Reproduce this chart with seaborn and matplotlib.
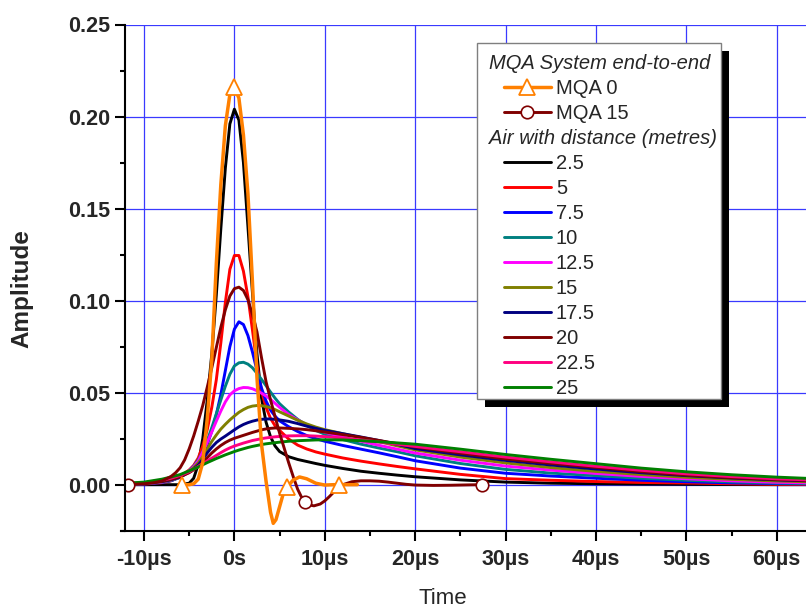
import matplotlib
matplotlib.use("Agg")
import matplotlib.pyplot as plt
import numpy as np
import pandas as pd
import seaborn as sns
from matplotlib.lines import Line2D
from matplotlib.patches import Rectangle

# ---------------- data ----------------
t_air = [-12, -10, -8, -7, -6, -5, -4.5, -4, -3.5, -3, -2.5, -2, -1.5, -1, -0.5,
         0, 0.5, 1, 1.5, 2, 2.5, 3, 3.5, 4, 4.5, 5, 6, 7, 8, 9, 10,
         12, 14, 16, 18, 20, 25, 30, 35, 40, 45, 50, 55, 60, 63.5]

air_2_5 = [0, 0, 0, 0, 0, 0.0008, 0.0035, 0.011, 0.025, 0.046, 0.071, 0.103, 0.139, 0.172, 0.196,
           0.204, 0.198, 0.175, 0.140, 0.104, 0.071, 0.047, 0.034, 0.026, 0.021, 0.018,
           0.0152, 0.0137, 0.0126, 0.0115, 0.0105,
           0.0088, 0.0073, 0.0062, 0.0052, 0.0043, 0.0026, 0.0014, 0.0008, 0.0005, 0.0003, 0.0002, 0.0001, 0.0, 0.0]
air_5 = [0.0001, 0.0003, 0.0011, 0.0021, 0.0045, 0.0080, 0.0105, 0.0145, 0.0210, 0.0300, 0.0420, 0.0570, 0.0770, 0.0990, 0.1170,
         0.1245, 0.1245, 0.1160, 0.1020, 0.0840, 0.0650, 0.0510, 0.0420, 0.0360, 0.0320, 0.0295,
         0.0248, 0.0215, 0.0194, 0.0178, 0.0166,
         0.0145, 0.0128, 0.0113, 0.0099, 0.0086, 0.0056, 0.0033, 0.0024, 0.0017, 0.0012, 0.0009, 0.0005, 0.0002, 0.0001]
air_7_5 = [0.0001, 0.0004, 0.0012, 0.0022, 0.0040, 0.0075, 0.0100, 0.0130, 0.0170, 0.0220, 0.0290, 0.0380, 0.0490, 0.0620, 0.0750,
           0.0845, 0.0885, 0.0870, 0.0810, 0.0720, 0.0620, 0.0525, 0.0455, 0.0405, 0.0372, 0.0347,
           0.0315, 0.0289, 0.0267, 0.0250, 0.0236,
           0.0213, 0.0193, 0.0173, 0.0152, 0.0130, 0.0090, 0.0062, 0.0047, 0.0035, 0.0024, 0.0016, 0.0010, 0.0006, 0.0004]
air_10 = [0.0002, 0.0005, 0.0013, 0.0023, 0.0040, 0.0075, 0.0100, 0.0135, 0.0180, 0.0240, 0.0310, 0.0385, 0.0460, 0.0535, 0.0600,
          0.0645, 0.0662, 0.0665, 0.0655, 0.0635, 0.0605, 0.0572, 0.0538, 0.0503, 0.0470, 0.0440,
          0.0395, 0.0355, 0.0322, 0.0295, 0.0274,
          0.0245, 0.0220, 0.0199, 0.0179, 0.0157, 0.0115, 0.0083, 0.0063, 0.0049, 0.0035, 0.0024, 0.0015, 0.0009, 0.0006]
air_12_5 = [0.0003, 0.0006, 0.0014, 0.0025, 0.0042, 0.0075, 0.0098, 0.0128, 0.0178, 0.0230, 0.0287, 0.0345, 0.0400, 0.0450, 0.0488,
            0.0510, 0.0522, 0.0528, 0.0527, 0.0521, 0.0510, 0.0497, 0.0482, 0.0463, 0.0442, 0.0420,
            0.0382, 0.0352, 0.0326, 0.0304, 0.0285,
            0.0259, 0.0236, 0.0214, 0.0193, 0.0172, 0.0133, 0.0101, 0.0079, 0.0061, 0.0045, 0.0032, 0.0021, 0.0013, 0.0010]
air_15 = [0.0003, 0.0007, 0.0016, 0.0026, 0.0042, 0.0072, 0.0093, 0.0118, 0.0152, 0.0195, 0.0235, 0.0270, 0.0302, 0.0328, 0.0352,
          0.0373, 0.0393, 0.0408, 0.0420, 0.0427, 0.0430, 0.0429, 0.0425, 0.0418, 0.0408, 0.0396,
          0.0373, 0.0350, 0.0330, 0.0313, 0.0299,
          0.0277, 0.0256, 0.0234, 0.0211, 0.0189, 0.0150, 0.0118, 0.0093, 0.0072, 0.0055, 0.0040, 0.0029, 0.0020, 0.0016]
air_17_5 = [0.0004, 0.0008, 0.0017, 0.0027, 0.0042, 0.0068, 0.0086, 0.0107, 0.0138, 0.0173, 0.0203, 0.0229, 0.0248, 0.0264, 0.0281,
            0.0298, 0.0314, 0.0327, 0.0337, 0.0345, 0.0351, 0.0355, 0.0357, 0.0357, 0.0355, 0.0352,
            0.0344, 0.0332, 0.0318, 0.0306, 0.0295,
            0.0277, 0.0259, 0.0240, 0.0219, 0.0196, 0.0162, 0.0132, 0.0107, 0.0085, 0.0065, 0.0049, 0.0036, 0.0026, 0.0021]
air_20 = [0.0005, 0.0009, 0.0019, 0.0029, 0.0043, 0.0065, 0.0081, 0.0099, 0.0121, 0.0147, 0.0172, 0.0194, 0.0213, 0.0229, 0.0242,
          0.0252, 0.0260, 0.0268, 0.0276, 0.0284, 0.0291, 0.0298, 0.0303, 0.0306, 0.0308, 0.0308,
          0.0306, 0.0303, 0.0299, 0.0293, 0.0286,
          0.0272, 0.0257, 0.0240, 0.0223, 0.0205, 0.0171, 0.0140, 0.0116, 0.0094, 0.0071, 0.0052, 0.0038, 0.0028, 0.0023]
air_22_5 = [0.0006, 0.0011, 0.0024, 0.0035, 0.0050, 0.0070, 0.0084, 0.0099, 0.0114, 0.0129, 0.0144, 0.0159, 0.0174, 0.0188, 0.0200,
            0.0210, 0.0218, 0.0226, 0.0233, 0.0240, 0.0245, 0.0250, 0.0254, 0.0257, 0.0260, 0.0262,
            0.0265, 0.0266, 0.0266, 0.0264, 0.0261,
            0.0253, 0.0243, 0.0232, 0.0220, 0.0208, 0.0179, 0.0150, 0.0124, 0.0100, 0.0078, 0.0059, 0.0044, 0.0032, 0.0026]
air_25 = [0.0008, 0.0014, 0.0030, 0.0042, 0.0055, 0.0075, 0.0085, 0.0096, 0.0108, 0.0120, 0.0131, 0.0142, 0.0152, 0.0162, 0.0171,
          0.0180, 0.0188, 0.0195, 0.0202, 0.0208, 0.0213, 0.0218, 0.0222, 0.0225, 0.0228, 0.0231,
          0.0236, 0.0239, 0.0241, 0.0243, 0.0244,
          0.0243, 0.0239, 0.0233, 0.0227, 0.0220, 0.0193, 0.0164, 0.0138, 0.0114, 0.0090, 0.0070, 0.0054, 0.0041, 0.0034]

distances = ["2.5", "5", "7.5", "10", "12.5", "15", "17.5", "20", "22.5", "25"]
air_series = [air_2_5, air_5, air_7_5, air_10, air_12_5, air_15, air_17_5, air_20, air_22_5, air_25]
air_colors = ["#000000", "#FF0000", "#0000FF", "#008080", "#FF00FF",
              "#808000", "#000080", "#800000", "#FF0080", "#008000"]

t_mqa0 = [-5.8, -5, -4.5, -4, -3.5, -3, -2.5, -2, -1.5, -1, -0.5,
          0, 0.5, 1, 1.5, 2, 2.5, 3, 3.5, 4,
          4.3, 4.6, 5, 5.4, 5.8, 6.5, 7.2, 8, 9, 10, 11, 11.6, 12.5, 13.6]
a_mqa0 = [0, 0, 0.0005, 0.003, 0.012, 0.036, 0.068, 0.120, 0.163, 0.195, 0.212,
          0.216, 0.210, 0.190, 0.158, 0.110, 0.058, 0.022, 0.002, -0.015,
          -0.021, -0.019, -0.012, -0.005, -0.0015, 0.0025, 0.0042, 0.0032, 0.0008, -0.0002, 0, 0, 0, 0]
mqa0_marker_t = [-5.8, 0, 5.8, 11.6]

t_mqa15 = [-11.8, -10, -9, -8, -7, -6.5, -6, -5.5, -5, -4.5,
           -4, -3.5, -3, -2.5, -2, -1.5, -1, -0.5, 0, 0.5,
           1, 1.5, 2, 2.5, 3, 3.5, 4, 4.5, 5, 5.5,
           6, 6.5, 7, 7.4, 7.8, 8.3, 8.8, 9.5, 10, 10.5,
           11, 11.5, 12, 13, 14, 15, 16, 17, 18, 19,
           20, 22, 24, 26, 27.4]
a_mqa15 = [0, 0.0005, 0.001, 0.002, 0.0045, 0.0065, 0.0092, 0.0135, 0.0195, 0.0265,
           0.0345, 0.043, 0.053, 0.0635, 0.0745, 0.0855, 0.0950, 0.1025, 0.1065, 0.1073,
           0.1055, 0.1005, 0.0925, 0.083, 0.069, 0.056, 0.046, 0.037, 0.028, 0.020,
           0.012, 0.0045, -0.0025, -0.0065, -0.0093, -0.011, -0.0115, -0.0105, -0.0088, -0.0065,
           -0.004, -0.0018, 0.0, 0.0016, 0.0021, 0.0021, 0.0019, 0.0014, 0.0008, 0.0002,
           -0.0002, -0.0004, -0.0003, -0.0001, 0]
mqa15_marker_t = [-11.8, 7.8, 27.4]

x_ticks = [-10, 0, 10, 20, 30, 40, 50, 60]
x_tick_labels = ["-10µs", "0s", "10µs", "20µs", "30µs", "40µs", "50µs", "60µs"]
y_ticks = [0.00, 0.05, 0.10, 0.15, 0.20, 0.25]
y_tick_labels = ["0.00", "0.05", "0.10", "0.15", "0.20", "0.25"]

legend_title_1 = "MQA System end-to-end"
legend_title_2 = "Air with distance (metres)"
mqa_labels = ["MQA 0", "MQA 15"]
orange = "#FF8000"
wine = "#800000"

# ---------------- style ----------------
sns.set_theme(style="white")
plt.rcParams["font.family"] = ["Liberation Sans", "DejaVu Sans"]

W, H = 806, 609
fig = plt.figure(figsize=(W / 100, H / 100), dpi=100)
ax_l, ax_r, ax_t, ax_b = 125, 806, 24.5, 530.7
ax = fig.add_axes([ax_l / W, 1 - ax_b / H, (ax_r - ax_l) / W, (ax_b - ax_t) / H])

rows = []
for d, s in zip(distances, air_series):
    for t, a in zip(t_air, s):
        rows.append((t, a, d))
df = pd.DataFrame(rows, columns=["time", "amp", "dist"])

sns.lineplot(data=df, x="time", y="amp", hue="dist", hue_order=distances,
             palette=dict(zip(distances, air_colors)), estimator=None, sort=False,
             lw=2.1, legend=False, ax=ax)

idx15 = [int(np.argmin(np.abs(np.array(t_mqa15) - m))) for m in mqa15_marker_t]
sns.lineplot(x=t_mqa15, y=a_mqa15, color=wine, lw=2.1, sort=False, estimator=None,
             marker="o", markevery=idx15, markersize=9, markerfacecolor="white",
             markeredgecolor=wine, markeredgewidth=1.2, ax=ax)
idx0 = [int(np.argmin(np.abs(np.array(t_mqa0) - m))) for m in mqa0_marker_t]
sns.lineplot(x=t_mqa0, y=a_mqa0, color=orange, lw=2.5, sort=False, estimator=None,
             marker="^", markevery=idx0, markersize=11, markerfacecolor="white",
             markeredgecolor=orange, markeredgewidth=1.3, ax=ax)

ax.set_xlim(-12.1, 63.23)
ax.set_ylim(-0.0248, 0.25)
ax.set_xticks(x_ticks)
ax.set_xticklabels(x_tick_labels)
ax.set_xticks(np.arange(-10, 61, 5), minor=True)
ax.set_yticks(y_ticks)
ax.set_yticklabels(y_tick_labels)
ax.set_yticks(np.arange(-0.025, 0.251, 0.025), minor=True)
ax.set_axisbelow(True)
ax.grid(True, which="major", color="#3a3aff", lw=0.9)
ax.grid(False, which="minor")
for side in ["top", "right"]:
    ax.spines[side].set_visible(False)
for side in ["left", "bottom"]:
    ax.spines[side].set_color("black")
    ax.spines[side].set_linewidth(1.5)
ax.spines["bottom"].set_bounds(-12.55, 63.23)
ax.tick_params(axis="both", which="major", direction="out", length=7, width=1.5,
               color="black", labelsize=15.5, bottom=True, left=True)
ax.tick_params(axis="both", which="minor", direction="out", length=3.8, width=1.5,
               color="black", bottom=True, left=True)
ax.tick_params(axis="x", which="major", pad=6)
ax.tick_params(axis="y", which="major", pad=3.5)
for lab in ax.get_xticklabels() + ax.get_yticklabels():
    lab.set_fontweight("bold")

ax.set_xlabel("Time", fontsize=16)
ax.set_ylabel("Amplitude", fontsize=17.5, fontweight="bold")
ax.xaxis.set_label_coords((443 - ax_l) / (ax_r - ax_l), (H - 598 - (H - ax_b)) / (ax_b - ax_t))
ax.xaxis.label.set_va("center")
ax.yaxis.set_label_coords((22 - ax_l) / (ax_r - ax_l), (H - 289 - (H - ax_b)) / (ax_b - ax_t))
ax.yaxis.label.set_va("center")

# ---------------- legend (drawn in pixel coordinates) ----------------
lx0, ly0, lw_, lh_ = 470, 35, 265, 380
lax = fig.add_axes([lx0 / W, 1 - (ly0 + lh_) / H, lw_ / W, lh_ / H])
lax.set_xlim(0, lw_)
lax.set_ylim(lh_, 0)
lax.axis("off")
fx, fy, fw, fh = 477.3 - lx0, 42.7 - ly0, 243.4, 356.6
lax.add_patch(Rectangle((fx + 8, fy + 8), fw, fh, facecolor="black", edgecolor="none", zorder=1))
lax.add_patch(Rectangle((fx, fy), fw, fh, facecolor="white", edgecolor="#7f7f7f", lw=1.0, zorder=2))

entries = [("title", legend_title_1, None)]
entries += [("mqa0", mqa_labels[0], orange), ("mqa15", mqa_labels[1], wine)]
entries += [("title", legend_title_2, None)]
entries += [("air", d, c) for d, c in zip(distances, air_colors)]

h0, h1, tx, titx = 504 - lx0, 551 - lx0, 556 - lx0, 489.3 - lx0
for i, (kind, label, col) in enumerate(entries):
    yc = 61.7 + 25 * i - ly0
    if kind == "title":
        lax.text(titx, yc + 7.0, label, fontsize=14.5, style="italic", va="baseline", ha="left", zorder=3)
        continue
    lax.add_line(Line2D([h0, h1], [yc, yc], color=col, lw=2.5 if kind == "mqa0" else 2.1, zorder=3))
    if kind == "mqa0":
        lax.add_line(Line2D([(h0 + h1) / 2], [yc], marker="^", markersize=11, mfc="white",
                            mec=orange, mew=1.3, lw=0, zorder=4))
    elif kind == "mqa15":
        lax.add_line(Line2D([(h0 + h1) / 2], [yc], marker="o", markersize=9, mfc="white",
                            mec=wine, mew=1.2, lw=0, zorder=4))
    lax.text(tx, yc + 7.0, label, fontsize=14.5, va="baseline", ha="left", zorder=3)

fig.savefig("out.png", dpi=100)
